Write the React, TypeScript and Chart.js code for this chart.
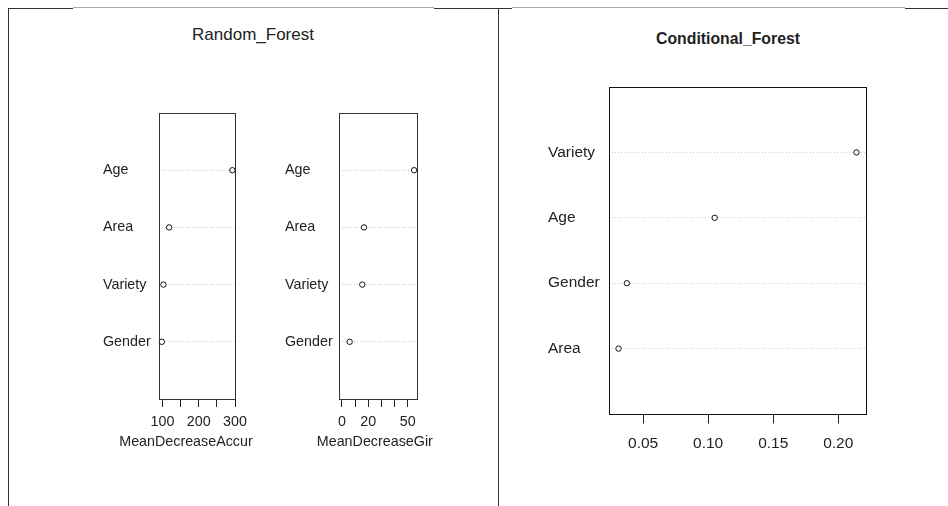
import React, { useEffect, useRef } from 'react';
import { Chart, registerables } from 'chart.js';

Chart.register(...registerables);
Chart.defaults.font.family = "'Liberation Sans', Arial, sans-serif";

// ---- data (top-to-bottom as shown) ----
const rfVariables = ['Age', 'Area', 'Variety', 'Gender'];
const rfMeanDecreaseAccuracy = [292.6, 118.4, 102.8, 98.3];
const rfMeanDecreaseGini = [54.9, 16.8, 15.5, 5.9];
const cfVariables = ['Variety', 'Age', 'Gender', 'Area'];
const cfImportance = [0.214, 0.105, 0.0375, 0.0311];

const accuracyTickLabels = [100, 200, 300];
const giniTickLabels = [0, 20, 50];
const cfTickLabels = [0.05, 0.1, 0.15, 0.2];

const padRange = (lo: number, hi: number): [number, number] => {
  const p = (hi - lo) * 0.04;
  return [lo - p, hi + p];
};

const boxPlugin = {
  id: 'rbox',
  beforeDatasetsDraw(chart: any, _args: any, opts: any) {
    const { ctx, chartArea: a } = chart;
    ctx.save();
    ctx.strokeStyle = opts.boxColor || '#222';
    ctx.lineWidth = 1;
    const l = Math.round(a.left) + 0.5;
    const t = Math.round(a.top) + 0.5;
    const r = Math.round(a.right) + 0.5;
    const b = Math.round(a.bottom) + 0.5;
    ctx.strokeRect(l, t, r - l, b - t);
    ctx.restore();
  },
  afterDraw(chart: any, _args: any, opts: any) {
    if (!opts.title) return;
    const { ctx, chartArea: a } = chart;
    ctx.save();
    ctx.font = `${opts.fontSize}px 'Liberation Sans', Arial, sans-serif`;
    ctx.fillStyle = '#222';
    const full = ctx.measureText(opts.fullTitle || opts.title).width;
    ctx.textAlign = 'left';
    ctx.textBaseline = 'middle';
    ctx.fillText(opts.title, (a.left + a.right) / 2 - full / 2, a.bottom + opts.titleOffset);
    ctx.restore();
  },
};

type DotProps = {
  labels: string[];
  values: number[];
  range: [number, number];
  step: number;
  tickLabels: number[];
  fmt: (v: number) => string;
  box: { left: number; top: number; width: number; height: number };
  padding: { left: number; top: number; right: number; bottom: number };
  yWidth: number;
  xHeight: number;
  fontSize: number;
  tickLength: number;
  tickPadding: number;
  title?: string;
  fullTitle?: string;
  titleOffset?: number;
  boxColor: string;
  gridColor: string;
};

function DotChart(p: DotProps) {
  const ref = useRef<HTMLCanvasElement>(null);
  useEffect(() => {
    if (!ref.current) return;
    const n = p.labels.length;
    const chart = new Chart(ref.current, {
      type: 'scatter',
      data: {
        datasets: [
          {
            data: p.values.map((v, i) => ({ x: v, y: n - i })),
            pointStyle: 'circle',
            pointRadius: 2.7,
            pointBorderWidth: 1,
            pointBorderColor: '#111',
            pointBackgroundColor: '#fff',
            clip: false as any,
          },
        ],
      },
      options: {
        animation: false,
        responsive: false,
        devicePixelRatio: 1,
        events: [],
        layout: { padding: p.padding },
        plugins: {
          legend: { display: false },
          tooltip: { enabled: false },
          title: { display: false },
          rbox: {
            boxColor: p.boxColor,
            title: p.title,
            fullTitle: p.fullTitle,
            titleOffset: p.titleOffset,
            fontSize: p.fontSize,
          },
        } as any,
        scales: {
          x: {
            type: 'linear',
            min: p.range[0],
            max: p.range[1],
            border: { display: false },
            grid: {
              display: true,
              drawOnChartArea: false,
              drawTicks: true,
              tickLength: p.tickLength,
              tickColor: '#222',
              tickWidth: 1,
            },
            ticks: {
              stepSize: p.step,
              includeBounds: false,
              autoSkip: false,
              maxRotation: 0,
              minRotation: 0,
              padding: p.tickPadding,
              color: '#222',
              font: { size: p.fontSize },
              callback: (v: any) =>
                p.tickLabels.some((t) => Math.abs(t - Number(v)) < 1e-9) ? p.fmt(Number(v)) : '',
            },
            afterFit: (s: any) => {
              s.height = p.xHeight;
            },
          },
          y: {
            type: 'linear',
            min: 0,
            max: n + 1,
            border: { display: false, dash: [1, 2] },
            grid: {
              display: true,
              drawTicks: false,
              drawOnChartArea: true,
              lineWidth: 1,
              color: (c: any) =>
                c.tick && c.tick.value >= 1 && c.tick.value <= n ? p.gridColor : 'rgba(0,0,0,0)',
            },
            ticks: {
              stepSize: 1,
              autoSkip: false,
              crossAlign: 'far',
              color: '#222',
              font: { size: p.fontSize },
              callback: (v: any) => {
                const i = n - Number(v);
                return Number.isInteger(Number(v)) && i >= 0 && i < n ? p.labels[i] : '';
              },
            },
            afterFit: (s: any) => {
              s.width = p.yWidth;
            },
          },
        },
      },
      plugins: [boxPlugin],
    } as any);
    return () => chart.destroy();
  }, []);
  return (
    <canvas
      ref={ref}
      width={p.box.width}
      height={p.box.height}
      style={{
        position: 'absolute',
        left: p.box.left,
        top: p.box.top,
        width: p.box.width,
        height: p.box.height,
      }}
    />
  );
}

const line = (left: number, top: number, width: number, height: number, color: string) => (
  <div style={{ position: 'absolute', left, top, width, height, background: color }} />
);

export default function App() {
  const accRange = padRange(Math.min(...rfMeanDecreaseAccuracy), Math.max(...rfMeanDecreaseAccuracy));
  const giniRange = padRange(0, Math.max(...rfMeanDecreaseGini));
  const cfRange = padRange(Math.min(...cfImportance), Math.max(...cfImportance));
  const font = "'Liberation Sans', Arial, sans-serif";

  return (
    <div
      style={{
        position: 'absolute',
        left: 0,
        top: 0,
        width: 948,
        height: 506,
        background: '#fff',
        overflow: 'hidden',
        fontFamily: font,
      }}
    >
      {line(8, 8, 65, 1, '#333')}
      {line(73, 7, 361, 1, '#aaa')}
      {line(434, 8, 78, 1, '#333')}
      {line(512, 7, 393, 1, '#aaa')}
      {line(905, 8, 43, 1, '#333')}
      {line(8, 8, 1, 498, '#333')}
      {line(498, 8, 1, 498, '#333')}

      <div
        style={{
          position: 'absolute',
          left: 153,
          top: 25,
          width: 200,
          textAlign: 'center',
          fontSize: 17,
          lineHeight: '20px',
          color: '#222',
        }}
      >
        Random_Forest
      </div>
      <div
        style={{
          position: 'absolute',
          left: 628,
          top: 29,
          width: 200,
          textAlign: 'center',
          fontSize: 15.8,
          fontWeight: 'bold',
          lineHeight: '20px',
          color: '#222',
        }}
      >
        Conditional_Forest
      </div>

      <DotChart
        labels={rfVariables}
        values={rfMeanDecreaseAccuracy}
        range={accRange}
        step={50}
        tickLabels={accuracyTickLabels}
        fmt={(v) => String(v)}
        box={{ left: 73, top: 60, width: 180, height: 420 }}
        padding={{ left: 30, top: 53, right: 16, bottom: 41 }}
        yWidth={56}
        xHeight={40}
        fontSize={14.3}
        tickLength={8}
        tickPadding={6}
        title="MeanDecreaseAccur"
        fullTitle="MeanDecreaseAccuracy"
        titleOffset={43.3}
        boxColor="#333"
        gridColor="#c4c4c4"
      />
      <DotChart
        labels={rfVariables}
        values={rfMeanDecreaseGini}
        range={giniRange}
        step={10}
        tickLabels={giniTickLabels}
        fmt={(v) => String(v)}
        box={{ left: 253, top: 60, width: 180, height: 420 }}
        padding={{ left: 32, top: 53, right: 16, bottom: 41 }}
        yWidth={54}
        xHeight={40}
        fontSize={14.3}
        tickLength={8}
        tickPadding={6}
        title="MeanDecreaseGir"
        fullTitle="MeanDecreaseGini"
        titleOffset={43.3}
        boxColor="#333"
        gridColor="#c4c4c4"
      />
      <DotChart
        labels={cfVariables}
        values={cfImportance}
        range={cfRange}
        step={0.05}
        tickLabels={cfTickLabels}
        fmt={(v) => v.toFixed(2)}
        box={{ left: 512, top: 60, width: 393, height: 440 }}
        padding={{ left: 36, top: 27, right: 39, bottom: 41 }}
        yWidth={61}
        xHeight={45}
        fontSize={15.5}
        tickLength={9.5}
        tickPadding={10.5}
        boxColor="#111"
        gridColor="#cfcfcf"
      />
    </div>
  );
}
